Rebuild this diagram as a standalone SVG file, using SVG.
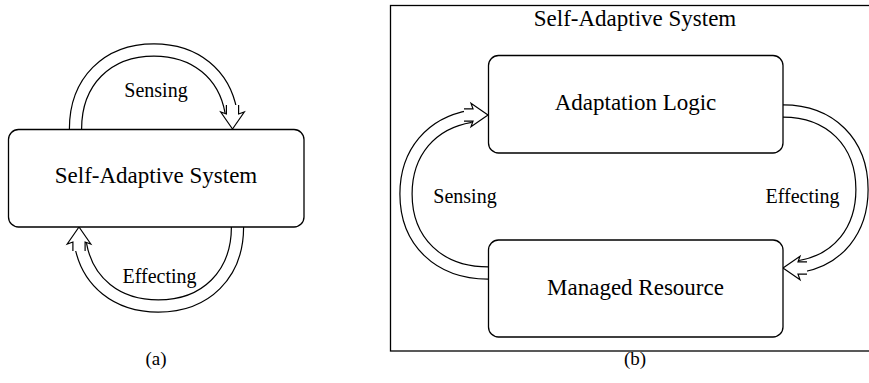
<svg xmlns="http://www.w3.org/2000/svg" width="869" height="383" viewBox="0 0 869 383">
<style>
.box{fill:#fff;stroke:#000;stroke-width:1.3}
.big{font-family:"Liberation Serif","DejaVu Serif","Times New Roman",serif;font-size:23px;fill:#000;text-anchor:middle}
.lbl{font-family:"Liberation Serif","DejaVu Serif","Times New Roman",serif;font-size:20px;fill:#000;text-anchor:middle}
.cap{font-family:"Liberation Serif","DejaVu Serif","Times New Roman",serif;font-size:19px;fill:#000;text-anchor:middle}
.sh{fill:none;stroke:#000;stroke-width:13.4;stroke-linecap:butt}
.shw{fill:none;stroke:#fff;stroke-width:11;stroke-linecap:butt;marker-end:url(#head)}
</style>
<defs>
<marker id="head" markerUnits="userSpaceOnUse" orient="auto" viewBox="-30 -15 40 30" markerWidth="40" markerHeight="30" refX="0" refY="0" overflow="visible">
<path d="M-24,-6.1 L-15,-6.1 L-17,-11.8 L0,0 L-17,11.8 L-15,6.1 L-24,6.1" fill="#fff" stroke="#000" stroke-width="1.2" stroke-linejoin="miter"/>
</marker>
</defs>
<rect width="869" height="383" fill="#fff"/>
<g id="container-b">
<rect x="390.5" y="5.5" width="490" height="345.5" fill="none" stroke="#000" stroke-width="1.3"/>
<text class="big" x="635" y="26">Self-Adaptive System</text>
</g>
<g id="connectors">
<g id="a-sensing">
<path class="sh" pathLength="248" stroke-dasharray="231 100" d="M75.5,129 C75.5,81.6 106.9,50 154,50 C201.1,50 232.5,81.6 232.5,129"/>
<path class="shw" pathLength="248" stroke-dasharray="231 100" d="M75.5,129 C75.5,81.6 106.9,50 154,50 C201.1,50 232.5,81.6 232.5,129"/>
<text class="lbl" x="156" y="97">Sensing</text>
</g>
<g id="a-effecting">
<path class="sh" pathLength="248" stroke-dasharray="231 100" d="M237.5,227 C237.5,274.4 205.8,306 158.25,306 C110.7,306 79,274.4 79,227"/>
<path class="shw" pathLength="248" stroke-dasharray="231 100" d="M237.5,227 C237.5,274.4 205.8,306 158.25,306 C110.7,306 79,274.4 79,227"/>
<text class="lbl" x="159.5" y="283">Effecting</text>
</g>
<g id="b-sensing">
<path class="sh" pathLength="252" stroke-dasharray="235 100" d="M488,273 C438.8,273 406,241.4 406,194 C406,146.6 438.8,115 488,115"/>
<path class="shw" pathLength="252" stroke-dasharray="235 100" d="M488,273 C438.8,273 406,241.4 406,194 C406,146.6 438.8,115 488,115"/>
<text class="lbl" x="465" y="203">Sensing</text>
</g>
<g id="b-effecting">
<path class="sh" pathLength="247" stroke-dasharray="230 100" d="M783,111 C830.4,111 862,142.4 862,189.5 C862,236.6 830.4,268 783,268"/>
<path class="shw" pathLength="247" stroke-dasharray="230 100" d="M783,111 C830.4,111 862,142.4 862,189.5 C862,236.6 830.4,268 783,268"/>
<text class="lbl" x="802.5" y="203">Effecting</text>
</g>
</g>
<g id="self-adaptive-system">
<rect class="box" x="8.5" y="129.5" width="295.5" height="97.5" rx="10" ry="10"/>
<text class="big" x="156" y="183">Self-Adaptive System</text>
</g>
<g id="adaptation-logic">
<rect class="box" x="488.5" y="55.5" width="294.5" height="97.5" rx="10" ry="10"/>
<text class="big" x="635.5" y="110">Adaptation Logic</text>
</g>
<g id="managed-resource">
<rect class="box" x="488.5" y="240" width="294.5" height="97" rx="10" ry="10"/>
<text class="big" x="635.5" y="295">Managed Resource</text>
</g>
<text class="cap" x="156" y="365">(a)</text>
<text class="cap" x="635" y="365">(b)</text>
</svg>
